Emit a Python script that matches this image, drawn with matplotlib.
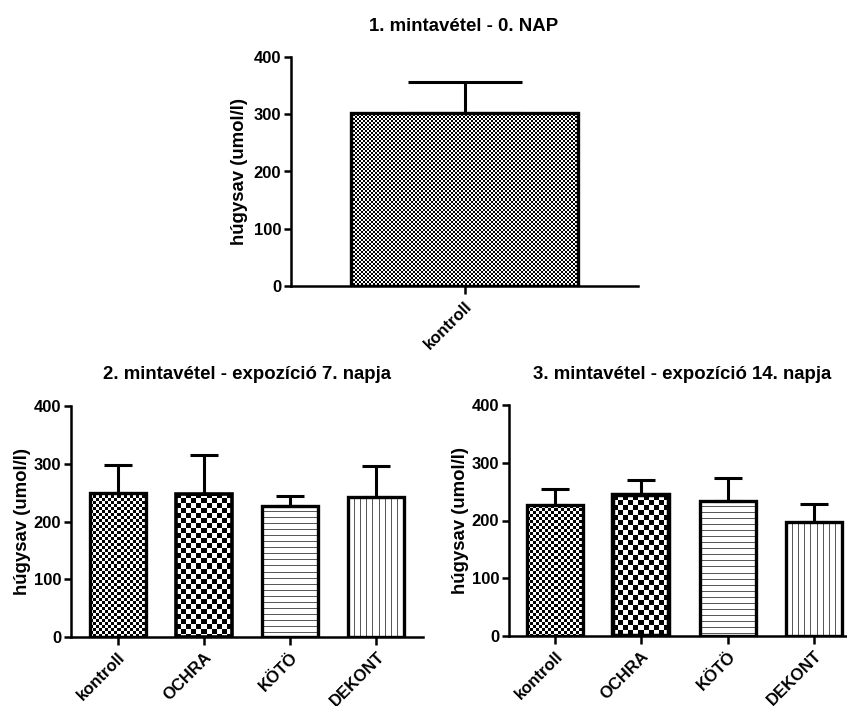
"""
Húgysav oszlopdiagramok - három mintavétel
"""
import numpy as np
import matplotlib
matplotlib.use('Agg')
import matplotlib.pyplot as plt

plt.rcParams['font.family'] = ['Liberation Sans', 'DejaVu Sans']
plt.rcParams['font.weight'] = 'bold'
plt.rcParams['axes.labelweight'] = 'bold'

# adatok (leolvasva az ábráról)
y_felirat = 'húgysav (umol/l)'
y_tickek = [0, 100, 200, 300, 400]

minta1_cim = '1. mintavétel - 0. NAP'
minta1_csoport = ['kontroll']
minta1_atlag = [303]
minta1_hiba = [53]

csoportok = ['kontroll', 'OCHRA', 'KÖTÖ', 'DEKONT']

minta2_cim = '2. mintavétel - expozíció 7. napja'
minta2_atlag = [250, 248, 227, 242]
minta2_hiba = [48, 67, 17, 54]

minta3_cim = '3. mintavétel - expozíció 14. napja'
minta3_atlag = [226, 244, 234, 197]
minta3_hiba = [28, 26, 40, 32]

W, H = 847, 706
fig = plt.figure(figsize=(W / 100, H / 100), dpi=100)


def px_axes(bal, jobb, fent, lent):
    # pixel koordinatakbol axes
    return fig.add_axes([bal / W, 1 - lent / H, (jobb - bal) / W, (lent - fent) / H])


def minta(tipus, w, h, cella):
    yy, xx = np.mgrid[0:h, 0:w]
    if tipus == 'sakk':
        return ((yy // cella + xx // cella) % 2).astype(float)
    if tipus == 'vizszintes':
        return np.where(yy % cella == 0, 0.35, 1.0)
    return np.where(xx % cella == 0, 0.35, 1.0)


def panel(ax, cimkek, atlag, hiba, szelesseg, mintak, xlim, vastagsag):
    x = np.arange(len(cimkek))
    ax.set_xlim(*xlim)
    ax.set_ylim(0, 400)
    bars = ax.bar(x, atlag, width=szelesseg, facecolor='none', edgecolor='black',
                  zorder=3)
    for b, (tipus, cella), lw in zip(bars, mintak, vastagsag):
        b.set_linewidth(lw)
        x0, y0, w, h = b.get_x(), b.get_y(), b.get_width(), b.get_height()
        p0 = ax.transData.transform((x0, y0))
        p1 = ax.transData.transform((x0 + w, y0 + h))
        wpx = max(int(round(p1[0] - p0[0])), 1)
        hpx = max(int(round(p1[1] - p0[1])), 1)
        im = ax.imshow(minta(tipus, wpx, hpx, cella), cmap='gray', vmin=0, vmax=1,
                       extent=(x0, x0 + w, y0, y0 + h), aspect='auto',
                       interpolation='nearest', zorder=2)
        im.set_clip_path(b)
    ax.set_xlim(*xlim)
    ax.set_ylim(0, 400)

    bar_px = ax.transData.transform((szelesseg, 0))[0] - ax.transData.transform((0, 0))[0]
    cap = bar_px / 4 * 72 / fig.dpi
    ax.errorbar(x, atlag, yerr=[np.zeros(len(x)), hiba], fmt='none', ecolor='black',
                elinewidth=2.2, capsize=cap, capthick=2.2, zorder=4)

    for s in ['top', 'right']:
        ax.spines[s].set_visible(False)
    for s in ['left', 'bottom']:
        ax.spines[s].set_linewidth(1.8)
    ax.set_yticks(y_tickek)
    ax.tick_params(axis='y', length=5, width=1.8, pad=2, labelsize=12)
    ax.tick_params(axis='x', length=6, width=1.8, pad=3)
    ax.set_xticks(x)
    ax.set_xticklabels(cimkek, rotation=45, ha='right', va='top',
                       rotation_mode='anchor', fontsize=12, fontweight='bold')
    ax.set_ylabel(y_felirat, fontsize=13.4, fontweight='bold', va='center')


mintak4 = [('sakk', 3), ('sakk', 5), ('vizszintes', 6), ('fuggoleges', 6)]

# 1. mintavetel
ax1 = px_axes(291, 638, 57, 286)
panel(ax1, minta1_csoport, minta1_atlag, minta1_hiba, 0.98, [('sakk', 2)],
      (-0.75, 0.75), [2.4])
ax1.yaxis.set_label_coords(-0.147, 0.5)
fig.text(464 / W, 1 - 31 / H, minta1_cim, ha='center', va='baseline', fontsize=13.4)

# 2. mintavetel
ax2 = px_axes(71, 423, 406, 637)
panel(ax2, csoportok, minta2_atlag, minta2_hiba, 0.65, mintak4,
      (-0.54, 3.54), [2.4, 2.6, 2.4, 2.4])
ax2.yaxis.set_label_coords(-0.139, 0.5)
fig.text(247 / W, 1 - 379 / H, minta2_cim, ha='center', va='baseline', fontsize=13.4)

# 3. mintavetel
ax3 = px_axes(509, 860, 405, 636)
panel(ax3, csoportok, minta3_atlag, minta3_hiba, 0.65, mintak4,
      (-0.53, 3.53), [2.4, 3.2, 2.4, 2.4])
ax3.yaxis.set_label_coords(-0.137, 0.5)
fig.text(682 / W, 1 - 379 / H, minta3_cim, ha='center', va='baseline', fontsize=13.4)

fig.savefig('out.png', dpi=100)
